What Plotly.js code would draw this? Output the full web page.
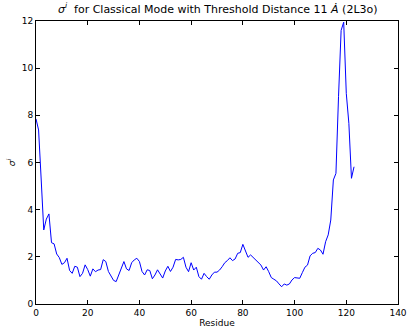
<!DOCTYPE html>
<html>
<head>
<meta charset="utf-8">
<script src="https://cdn.plot.ly/plotly-3.0.1.min.js"></script>
<style>html,body{margin:0;padding:0;background:#fff;}#chart{width:407px;height:331px;}</style>
</head>
<body>
<div id="chart"></div>
<script>
const residues = [];
for (let i = 0; i <= 123; i++) residues.push(i);
const sigma = [
  7.85, 7.38, 5.3, 3.14, 3.6, 3.82, 2.6, 2.55, 2.12, 1.97,
  1.68, 1.75, 1.94, 1.42, 1.30, 1.6, 1.56, 1.16, 1.3, 1.66,
  1.46, 1.18, 1.49, 1.37, 1.44, 1.46, 1.88, 1.8, 1.38, 1.2,
  1.0, 0.95, 1.23, 1.5, 1.8, 1.49, 1.42, 1.75, 1.87, 1.94,
  1.8, 1.38, 1.23, 1.45, 1.42, 1.07, 1.23, 1.45, 1.26, 1.1,
  1.4, 1.6, 1.38, 1.56, 1.89, 1.87, 1.89, 1.98, 1.56, 1.37,
  1.75, 1.44, 1.56, 1.16, 1.05, 1.30, 1.16, 1.05, 1.23, 1.35,
  1.35, 1.44, 1.58, 1.75, 1.84, 1.96, 1.84, 1.91, 2.15, 2.18,
  2.53, 2.29, 1.98, 2.08, 1.98, 1.89, 1.79, 1.65, 1.44, 1.58,
  1.37, 1.12, 1.05, 0.98, 0.85, 0.73, 0.85, 0.80, 0.85, 1.02,
  1.12, 1.12, 1.09, 1.33, 1.56, 1.65, 2.04, 2.15, 2.18, 2.36,
  2.29, 2.11, 2.64, 2.93, 3.56, 5.26, 5.54, 8.79, 11.6, 11.95,
  8.93, 7.66, 5.33, 5.82
];
const xTicks = [0, 20, 40, 60, 80, 100, 120, 140];
const yTicks = [0, 2, 4, 6, 8, 10, 12];
const titleText = '<i>σ</i><sup><i>i</i></sup>  for Classical Mode with Threshold Distance 11 <i>Ȧ</i> (2L3o)';
const xTitle = 'Residue';
const yTitle = '<i>σ</i><sup><i>i</i></sup>';

const font = {family: 'DejaVu Sans', size: 9, color: '#000'};
const axisCommon = {
  showline: true, linecolor: '#000', linewidth: 1, mirror: 'allticks',
  ticks: 'inside', ticklen: 4, tickwidth: 1, tickcolor: '#000',
  showgrid: false, zeroline: false, tickfont: font
};
Plotly.newPlot('chart', [{
  x: residues, y: sigma, type: 'scatter', mode: 'lines',
  line: {color: '#0000ff', width: 1}, hoverinfo: 'skip'
}], {
  width: 407, height: 331,
  margin: {l: 36, r: 9, t: 21, b: 27, pad: 0},
  paper_bgcolor: '#fff', plot_bgcolor: '#fff',
  showlegend: false,
  font: font,
  title: {text: titleText, font: {family: 'DejaVu Sans', size: 11, color: '#000'},
          x: 0.535, xanchor: 'center', y: 0.985, yanchor: 'top'},
  xaxis: Object.assign({}, axisCommon, {range: [0, 140], tickvals: xTicks,
    title: {text: xTitle, font: {family: 'DejaVu Sans', size: 9, color: '#000'}, standoff: 2}}),
  yaxis: Object.assign({}, axisCommon, {range: [0, 12], tickvals: yTicks,
    title: {text: yTitle, font: {family: 'DejaVu Sans', size: 9, color: '#000'}, standoff: 4}})
}, {staticPlot: true});
</script>
</body>
</html>
